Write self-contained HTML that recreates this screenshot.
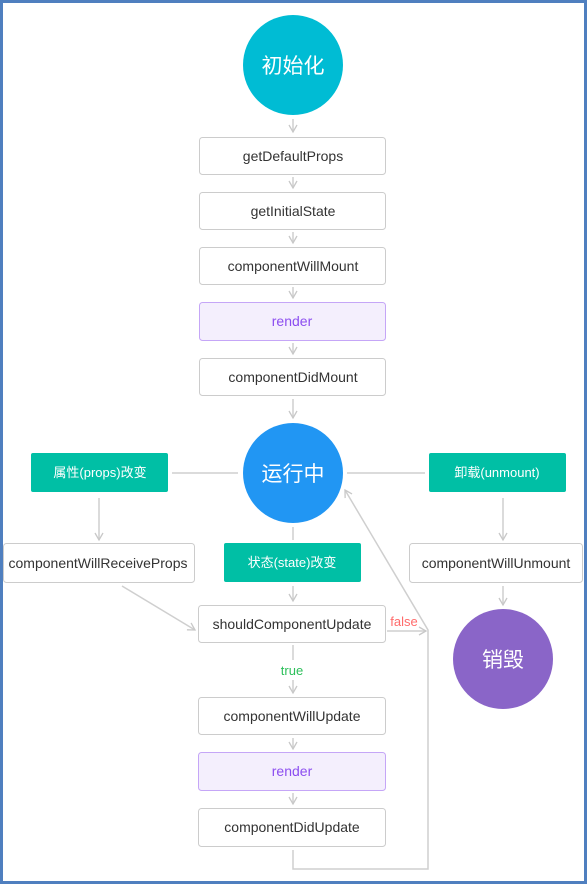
<!DOCTYPE html>
<html><head><meta charset="utf-8"><style>
html,body{margin:0;padding:0;background:#fff;}
svg{display:block;}
text{font-family:"Liberation Sans","Noto Sans CJK SC",sans-serif;}
</style></head><body>
<svg width="588" height="886" viewBox="0 0 588 886" xmlns="http://www.w3.org/2000/svg">
<defs>
<marker id="a" markerWidth="10" markerHeight="10" refX="8" refY="5" orient="auto" markerUnits="userSpaceOnUse">
<path d="M1,1 L8,5 L1,9" fill="none" stroke="#c8c8c8" stroke-width="1.3"/>
</marker>
</defs>
<rect x="1.5" y="1.5" width="584" height="881" fill="#fff" stroke="#4f7fbf" stroke-width="3"/>
<g stroke="#cfcfcf" stroke-width="1.5" fill="none">
<line x1="293" y1="119" x2="293" y2="132" marker-end="url(#a)"/>
<line x1="293" y1="177" x2="293" y2="188" marker-end="url(#a)"/>
<line x1="293" y1="232" x2="293" y2="243" marker-end="url(#a)"/>
<line x1="293" y1="287" x2="293" y2="298" marker-end="url(#a)"/>
<line x1="293" y1="343" x2="293" y2="354" marker-end="url(#a)"/>
<line x1="293" y1="399" x2="293" y2="418" marker-end="url(#a)"/>
<line x1="172" y1="473" x2="238" y2="473"/>
<line x1="347" y1="473" x2="425" y2="473"/>
<line x1="99" y1="498" x2="99" y2="540" marker-end="url(#a)"/>
<line x1="503" y1="498" x2="503" y2="540" marker-end="url(#a)"/>
<line x1="503" y1="586" x2="503" y2="605" marker-end="url(#a)"/>
<line x1="293" y1="527" x2="293" y2="540"/>
<line x1="293" y1="586" x2="293" y2="601" marker-end="url(#a)"/>
<line x1="122" y1="586" x2="195" y2="630" marker-end="url(#a)"/>
<line x1="387" y1="631" x2="426" y2="631" marker-end="url(#a)"/>
<line x1="293" y1="645" x2="293" y2="660"/>
<line x1="293" y1="680" x2="293" y2="693" marker-end="url(#a)"/>
<line x1="293" y1="738" x2="293" y2="749" marker-end="url(#a)"/>
<line x1="293" y1="793" x2="293" y2="804" marker-end="url(#a)"/>
<polyline points="293,850 293,869 428,869 428,630 345,490" marker-end="url(#a)"/>
</g>
<circle cx="293" cy="65" r="50" fill="#00bcd4"/>
<text x="293" y="73" font-size="21" fill="#fff" text-anchor="middle">初始化</text>
<circle cx="293" cy="473" r="50" fill="#2196f3"/>
<text x="293" y="481" font-size="21" fill="#fff" text-anchor="middle">运行中</text>
<circle cx="503" cy="659" r="50" fill="#8a65c8"/>
<text x="503" y="667" font-size="21" fill="#fff" text-anchor="middle">销毁</text>
<g stroke="#cccccc" stroke-width="1" fill="#fff">
<rect x="199.5" y="137.5" width="186" height="37" rx="3"/>
<rect x="199.5" y="192.5" width="186" height="37" rx="3"/>
<rect x="199.5" y="247.5" width="186" height="37" rx="3"/>
<rect x="199.5" y="358.5" width="186" height="37" rx="3"/>
<rect x="3.5" y="543.5" width="191" height="39" rx="3"/>
<rect x="409.5" y="543.5" width="173" height="39" rx="3"/>
<rect x="198.5" y="605.5" width="187" height="37" rx="3"/>
<rect x="198.5" y="697.5" width="187" height="37" rx="3"/>
<rect x="198.5" y="808.5" width="187" height="38" rx="3"/>
</g>
<g stroke="#c5a6f7" stroke-width="1" fill="#f4effd">
<rect x="199.5" y="302.5" width="186" height="38" rx="3"/>
<rect x="198.5" y="752.5" width="187" height="38" rx="3"/>
</g>
<g fill="#00bfa5">
<rect x="31" y="453" width="137" height="39" rx="2"/>
<rect x="429" y="453" width="137" height="39" rx="2"/>
<rect x="224" y="543" width="137" height="39" rx="2"/>
</g>
<g font-size="14" fill="#333" text-anchor="middle">
<text x="293" y="161">getDefaultProps</text>
<text x="293" y="216">getInitialState</text>
<text x="293" y="271">componentWillMount</text>
<text x="293" y="382">componentDidMount</text>
<text x="98" y="568">componentWillReceiveProps</text>
<text x="496" y="568">componentWillUnmount</text>
<text x="292" y="629">shouldComponentUpdate</text>
<text x="292" y="721">componentWillUpdate</text>
<text x="292" y="832">componentDidUpdate</text>
</g>
<g font-size="14" fill="#8c4ef0" text-anchor="middle">
<text x="292" y="326">render</text>
<text x="292" y="776">render</text>
</g>
<g font-size="13" fill="#fff" text-anchor="middle">
<text x="100" y="477">属性(props)改变</text>
<text x="497" y="477">卸载(unmount)</text>
<text x="292" y="567">状态(state)改变</text>
</g>
<text x="404" y="626" font-size="13" fill="#ff6b6b" text-anchor="middle">false</text>
<text x="292" y="675" font-size="13" fill="#2cbf5a" text-anchor="middle">true</text>
</svg>
</body></html>
